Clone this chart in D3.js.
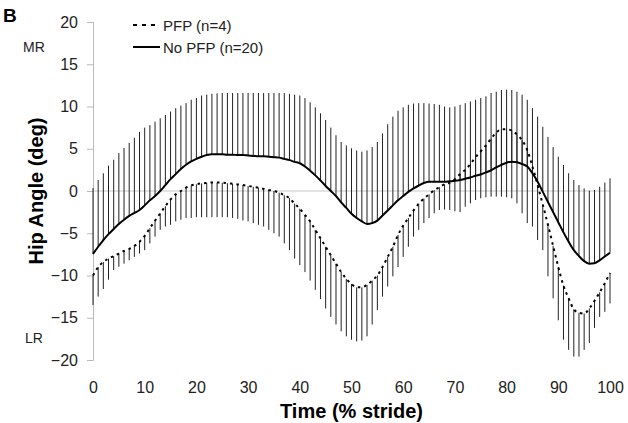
<!DOCTYPE html>
<html><head><meta charset="utf-8">
<script src="https://cdn.jsdelivr.net/npm/d3@7/dist/d3.min.js"></script>
<style>body{margin:0;background:#fff;} text{font-family:"Liberation Sans",Arial,sans-serif;}</style>
</head><body><svg id="c" width="628" height="423"></svg>
<script>
// Time (% stride) categories
const stride = d3.range(0, 101);
const xTicks = [0,10,20,30,40,50,60,70,80,90,100];
const yTicks = [20,15,10,5,0,-5,-10,-15,-20];
// No PFP (n=20) mean
const noPfpMean = [-7.45,-6.6,-5.8,-5.1,-4.5,-3.9,-3.4,-2.95,-2.6,-2.25,-1.7,-1.1,-0.6,0.0,0.7,1.4,2.0,2.6,3.1,3.5,3.8,4.05,4.25,4.35,4.35,4.35,4.3,4.3,4.25,4.25,4.2,4.15,4.1,4.1,4.05,4.0,3.95,3.8,3.65,3.45,3.28,2.9,2.4,1.85,1.25,0.6,0.0,-0.6,-1.35,-2.0,-2.7,-3.2,-3.6,-3.9,-3.8,-3.5,-2.9,-2.3,-1.7,-1.1,-0.6,-0.1,0.3,0.65,0.95,1.1,1.1,1.1,1.1,1.15,1.2,1.3,1.45,1.6,1.8,1.95,2.2,2.45,2.8,3.1,3.35,3.47,3.4,3.2,2.9,2.1,1.1,-0.1,-1.3,-2.5,-3.7,-4.9,-6.0,-7.0,-7.7,-8.3,-8.6,-8.55,-8.2,-7.75,-7.3];
// No PFP mean + SD (upper bar end)
const noPfpUpper = [0.35,1.3,2.1,3.0,3.7,4.5,5.1,5.7,6.3,7.0,7.5,7.8,8.2,8.6,9.0,9.4,9.8,10.1,10.4,10.8,11.0,11.3,11.4,11.5,11.55,11.6,11.6,11.6,11.6,11.6,11.6,11.6,11.6,11.6,11.6,11.6,11.6,11.6,11.5,11.4,11.3,11.0,10.5,9.9,9.2,8.4,7.5,6.6,5.8,5.4,5.05,4.8,4.65,4.8,5.2,5.8,6.8,7.9,8.8,9.5,9.9,10.2,10.35,10.4,10.4,10.35,10.3,10.2,10.0,9.9,10.0,10.2,10.4,10.6,10.8,11.0,11.2,11.6,11.75,11.95,12.0,11.95,11.75,11.4,10.8,9.8,8.8,7.6,6.4,5.2,4.06,3.08,2.1,1.3,0.7,0.3,0.04,0.12,0.5,1.0,1.5];
// PFP (n=4) mean
const pfpMean = [-10.0,-9.0,-8.4,-8.0,-7.7,-7.4,-7.1,-6.85,-6.5,-6.0,-5.3,-4.4,-3.5,-2.64,-1.8,-1.0,-0.4,0.0,0.4,0.65,0.8,0.9,0.95,1.0,1.0,0.98,0.92,0.85,0.78,0.7,0.6,0.5,0.4,0.25,0.12,0.0,-0.2,-0.5,-0.85,-1.5,-2.1,-2.84,-3.6,-4.6,-5.6,-6.6,-7.6,-8.6,-9.6,-10.4,-11.0,-11.4,-11.4,-11.1,-10.6,-10.0,-9.0,-7.8,-6.6,-5.2,-4.1,-3.2,-2.3,-1.5,-0.9,-0.4,0.1,0.45,0.8,1.0,1.4,2.0,2.5,3.2,4.0,4.7,5.4,6.2,6.9,7.3,7.3,7.15,6.7,6.0,4.85,2.9,0.7,-1.6,-4.0,-6.5,-9.0,-11.2,-12.7,-14.0,-14.4,-14.5,-13.9,-13.0,-12.0,-10.9,-9.7];
// PFP mean - SD (lower bar end)
const pfpLower = [-13.5,-12.5,-11.6,-10.5,-9.35,-8.96,-8.6,-8.2,-7.8,-7.4,-7.0,-6.2,-5.4,-4.6,-4.2,-4.0,-3.6,-3.4,-3.2,-3.2,-3.1,-3.1,-3.1,-3.1,-3.1,-3.1,-3.1,-3.2,-3.3,-3.5,-3.6,-3.8,-4.0,-4.2,-4.6,-5.0,-5.4,-6.2,-7.0,-8.0,-8.76,-9.6,-10.6,-11.7,-12.8,-13.9,-14.9,-15.8,-16.6,-17.2,-17.6,-17.8,-17.7,-17.2,-15.8,-14.1,-12.5,-11.3,-10.1,-9.0,-7.8,-6.6,-5.4,-4.6,-3.8,-3.2,-2.64,-2.25,-2.2,-2.25,-2.4,-2.5,-1.86,-1.46,-1.07,-0.87,-0.75,-0.67,-0.67,-0.67,-0.75,-0.87,-1.46,-2.64,-3.8,-4.2,-5.8,-7.0,-10.1,-12.7,-15.3,-17.6,-18.8,-19.6,-19.6,-18.8,-18.0,-16.2,-14.9,-14.3,-13.3];

const FONT = "Liberation Sans, Arial, sans-serif";
const svg = d3.select("#c");
const x = d3.scaleLinear().domain([0,100]).range([93,610]);
const y = d3.scaleLinear().domain([-20,20]).range([360,22]);

// zero gridline
svg.append("line").attr("x1",x(0)).attr("x2",x(100)).attr("y1",y(0)).attr("y2",y(0))
  .attr("stroke","#c8c8c8").attr("stroke-width",1);

// y axis
const yAxis = d3.axisLeft(y).tickValues(yTicks).tickSize(6).tickPadding(9).tickFormat(d3.format("d"));
const gy = svg.append("g").attr("transform",`translate(${x(0)},0)`).call(yAxis);
gy.select(".domain").attr("stroke","#bbb");
gy.selectAll(".tick line").attr("stroke","#bbb");
gy.selectAll(".tick text").attr("font-size",16).attr("fill","#222").style("font-family",FONT);

// x axis labels (no axis line; the zero line serves as category axis)
const xAxis = d3.axisBottom(x).tickValues(xTicks).tickSize(0).tickPadding(0);
const gx = svg.append("g").attr("transform",`translate(0,387)`).call(xAxis);
gx.select(".domain").remove();
gx.selectAll(".tick text").attr("font-size",16).attr("fill","#222").attr("dy","0.35em").style("font-family",FONT);

// error bars: No PFP +SD upward, PFP -SD downward
svg.append("g").selectAll("line").data(stride).join("line")
  .attr("x1",d=>x(d)).attr("x2",d=>x(d))
  .attr("y1",(d,i)=>y(noPfpMean[i])).attr("y2",(d,i)=>y(noPfpUpper[i]))
  .attr("stroke","#222").attr("stroke-width",1);
svg.append("g").selectAll("line").data(stride).join("line")
  .attr("x1",d=>x(d)).attr("x2",d=>x(d))
  .attr("y1",(d,i)=>y(pfpMean[i])).attr("y2",(d,i)=>y(pfpLower[i]))
  .attr("stroke","#222").attr("stroke-width",1);

// lines
const lineGen = arr => d3.line().x((d,i)=>x(stride[i])).y(d=>y(d)).curve(d3.curveMonotoneX)(arr);
svg.append("path").attr("d",lineGen(pfpMean)).attr("fill","none").attr("stroke","#000")
  .attr("stroke-width",2).attr("stroke-dasharray","2.5,4");
svg.append("path").attr("d",lineGen(noPfpMean)).attr("fill","none").attr("stroke","#000")
  .attr("stroke-width",2);

// legend
const leg = svg.append("g");
leg.append("line").attr("x1",133).attr("x2",160).attr("y1",25).attr("y2",25)
  .attr("stroke","#000").attr("stroke-width",2).attr("stroke-dasharray","4,5");
leg.append("text").attr("x",163).attr("y",30.5).attr("font-size",15).attr("fill","#222").text("PFP (n=4)");
leg.append("line").attr("x1",133).attr("x2",160).attr("y1",47).attr("y2",47)
  .attr("stroke","#000").attr("stroke-width",2);
leg.append("text").attr("x",163).attr("y",52.5).attr("font-size",15).attr("fill","#222").text("No PFP (n=20)");

// annotations
svg.append("text").attr("x",3).attr("y",22).attr("font-size",19).attr("font-weight","bold").text("B");
svg.append("text").attr("x",34).attr("y",52).attr("font-size",14).attr("text-anchor","middle").attr("fill","#222").text("MR");
svg.append("text").attr("x",34).attr("y",343).attr("font-size",14).attr("text-anchor","middle").attr("fill","#222").text("LR");

// axis titles
svg.append("text").attr("transform",`translate(43,${y(0)}) rotate(-90)`).attr("text-anchor","middle")
  .attr("font-size",20).attr("font-weight","bold").text("Hip Angle (deg)");
svg.append("text").attr("x",(x(0)+x(100))/2).attr("y",418).attr("text-anchor","middle")
  .attr("font-size",20).attr("font-weight","bold").text("Time (% stride)");
</script></body></html>
